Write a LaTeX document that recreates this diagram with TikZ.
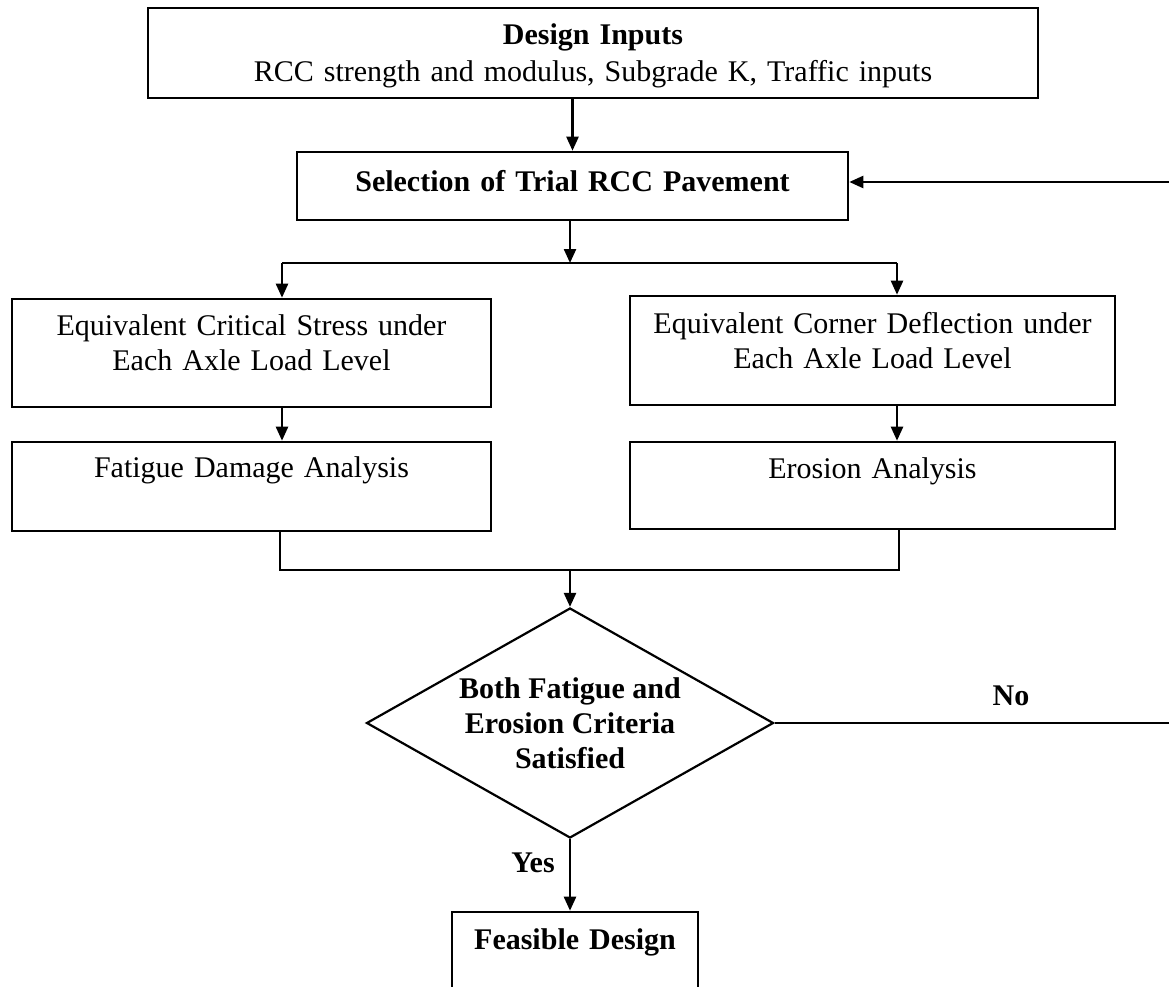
\documentclass[tikz,border=0pt]{standalone}
\usepackage{fontspec}
\setmainfont{Liberation Serif}
\usetikzlibrary{shapes.geometric,arrows.meta}
\begin{document}
\begin{tikzpicture}[x=1pt,y=-1pt,
    font=\fontsize{30}{35}\selectfont,
    block/.style={draw,line width=2.6pt,inner sep=0pt,align=center},
    decision/.style={draw,diamond,shape aspect=1.77,line width=2.2pt,inner sep=0pt,align=center,
      font=\fontsize{30}{35}\selectfont\bfseries,minimum width=407pt,minimum height=230pt},
    link/.style={line width=2.4pt},
    arrow/.style={link,-{Triangle[length=14pt,width=12pt]}}]
  \useasboundingbox (0,0) rectangle (1169,987);
  \node[block,text width=890pt,text height=37pt,text depth=53pt] (inputs) at (593,53)
    {\textbf{Design Inputs}\\[2pt]RCC strength and modulus, Subgrade K, Traffic inputs};
  \node[block,text width=551pt,text height=39pt,text depth=29pt] (select) at (572.5,186)
    {\textbf{Selection of Trial RCC Pavement}};
  \node[block,text width=479pt,text height=36pt,text depth=72pt] (stress) at (251.5,353)
    {Equivalent Critical Stress under\\Each Axle Load Level};
  \node[block,text width=485pt,text height=37pt,text depth=72pt] (deflect) at (872.5,350.5)
    {Equivalent Corner Deflection under\\Each Axle Load Level};
  \node[block,text width=479pt,text height=35pt,text depth=54pt] (fatigue) at (251.5,486.5)
    {Fatigue Damage Analysis};
  \node[block,text width=485pt,text height=36pt,text depth=51pt] (erosion) at (872.5,485.5)
    {Erosion Analysis};
  \node[decision] (check) at (570,723)
    {Both Fatigue and\\Erosion Criteria\\Satisfied};
  \node[block,text width=246pt,text height=37pt,text depth=60pt] (feasible) at (575,960.5)
    {\textbf{Feasible Design}};
  \node (no) at (1011,696) {\textbf{No}};
  \node (yes) at (533,863) {\textbf{Yes}};
  \coordinate (fork) at (570,263);
  \coordinate (forkL) at (282,263);
  \coordinate (forkR) at (897,263);
  \coordinate (join) at (570,570);
  \coordinate (joinL) at (280,570);
  \coordinate (joinR) at (899,570);
  \coordinate (back) at (1190,182);
  \begin{scope}[arrow]
    \draw (inputs.south -| select.north) -- (select.north);
    \draw (select.south -| fork) -- (fork);
    \draw (forkL) -- (forkL |- stress.north);
    \draw (forkR) -- (forkR |- deflect.north);
    \draw (stress.south -| forkL) -- (fatigue.north -| forkL);
    \draw (deflect.south -| forkR) -- (erosion.north -| forkR);
    \draw (join) -- (check.north);
    \draw (check.south) -- (feasible.north -| check.south);
    \draw (check.east) -| (back) -- (back -| select.east);
  \end{scope}
  \begin{scope}[link]
    \draw (forkL) -- (forkR);
    \draw (fatigue.south -| joinL) -- (joinL) -- (joinR) -- (erosion.south -| joinR);
  \end{scope}
\end{tikzpicture}
\end{document}
